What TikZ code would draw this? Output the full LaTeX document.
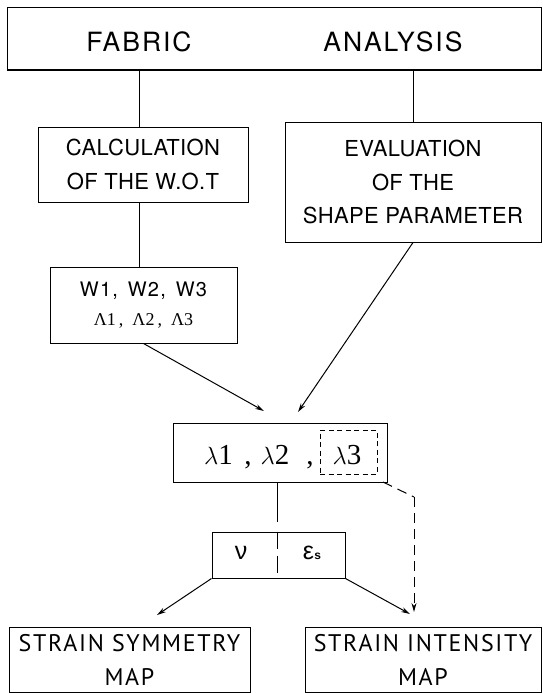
\documentclass[tikz,border=0pt]{standalone}
\usepackage{fontspec}
\setmainfont{TeX Gyre Heros}
\newfontfamily\headfont[LetterSpace=7.5]{TeX Gyre Heros}
\newfontfamily\boxfont[LetterSpace=1.5]{TeX Gyre Heros}
\newfontfamily\wfont[LetterSpace=6]{TeX Gyre Heros}
\newfontfamily\mapfont[LetterSpace=7]{PT Sans}
\newfontfamily\serfont{Liberation Serif}
\newfontfamily\greekfont{Liberation Sans}
\usetikzlibrary{arrows.meta}

\begin{document}
\begin{tikzpicture}[x=1pt,y=-1pt,line width=1pt,
  box/.style={draw,rectangle,inner sep=0pt,align=center},
  tip/.style={-{Stealth[length=9pt,width=5pt]}},
  dashline/.style={dash pattern=on 10pt off 6pt},
  fine/.style={dash pattern=on 5pt off 3.5pt,line width=0.8pt},
  head/.style={font=\headfont\fontsize{26.5}{30}\selectfont},
  boxtext/.style={font=\boxfont\fontsize{22}{33.5}\selectfont},
  maptext/.style={font=\mapfont\fontsize{24}{34}\selectfont},
  lam/.style={anchor=base,inner sep=0pt,font=\serfont\fontsize{29}{32}\selectfont},
  greek/.style={font=\greekfont\fontsize{25}{30}\selectfont}]
\useasboundingbox (0,0) rectangle (543,693);

% header
\node[box,minimum width=534pt,minimum height=62pt] (top) at (274,39) {};
\node[head] (fab) at (139,42) {FABRIC};
\node[head] (ana) at (393,42) {ANALYSIS};

% first level
\node[box,boxtext,minimum width=210pt,minimum height=75pt] (calc) at (143,164.5)
  {CALCULATION\\OF THE W.O.T};
\node[box,boxtext,minimum width=256pt,minimum height=120pt] (eval) at (413,182)
  {EVALUATION\\OF THE\\SHAPE PARAMETER};

% weights and eigenvalues
\node[box,minimum width=187pt,minimum height=76pt,font=\wfont\fontsize{20}{24}\selectfont] (wbox) at (143.5,305)
  {W1,\enspace W2,\enspace W3\\[5pt]
   {\serfont\fontsize{18}{20}\selectfont Λ1\,,\enspace Λ2\,,\enspace Λ3}};

% principal values
\node[box,minimum width=214pt,minimum height=59pt] (lam) at (280,452.5) {};
\node[lam] (l1) at (218.5,464) {$\lambda$1};
\node[lam] (c1) at (248,464) {,};
\node[lam] (l2) at (275,464) {$\lambda$2};
\node[lam] (c2) at (310,464) {,};
\node[draw,fine,minimum width=57pt,minimum height=44pt,inner sep=0pt] (l3box) at (348.5,452) {};
\node[lam] (l3) at (347,464) {$\lambda$3};

% shape factor and intensity
\node[box,minimum width=133pt,minimum height=46pt] (nu) at (278.5,555) {};
\node[greek] (nutxt) at (241,553) {ν};
\node[greek] (eps) at (312,553) {ε\kern0.5pt{\bfseries\fontsize{12}{14}\selectfont s}};

% maps
\node[box,maptext,minimum width=241pt,minimum height=65pt] (smap) at (129.5,659.5)
  {STRAIN SYMMETRY\\MAP};
\node[box,maptext,minimum width=236pt,minimum height=65pt] (imap) at (423,659.5)
  {STRAIN INTENSITY\\MAP};

% free ends of the connectors
\coordinate (lamfoot) at (277,482);
\coordinate (corner) at (383,482);
\coordinate (bend) at (414,497);
\coordinate (dend) at (414,612);
\coordinate (wend) at (264,411);
\coordinate (eend) at (298,412);
\coordinate (send) at (157,615);
\coordinate (iend) at (410,614);

% connectors
\draw (top.south -| fab) -- (calc.north -| fab);
\draw (top.south -| eval.north) -- (eval.north);
\draw (calc.south -| fab) -- (wbox.north -| fab);
\draw[tip] (wbox.south) -- (wend);
\draw[tip] (eval.south) -- (eend);

\draw (lamfoot) -- ++(0,40);
\draw[dash pattern=on 17pt off 7pt] (nu.north -| lamfoot) -- (nu.south -| lamfoot);

\draw[dashline] (corner) -- (bend);
\draw[dashline,tip] (bend) -- (dend);

\draw[tip] (nu.south west) -- (send);
\draw[tip] (nu.south east) -- (iend);
\end{tikzpicture}
\end{document}
